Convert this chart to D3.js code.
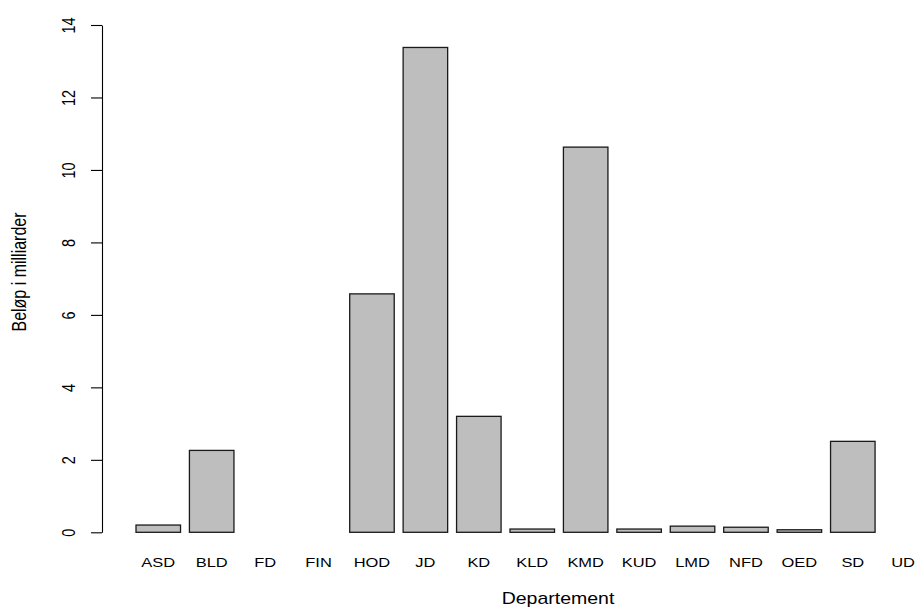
<!DOCTYPE html>
<html><head><meta charset="utf-8">
<script src="https://cdn.jsdelivr.net/npm/d3@7/dist/d3.min.js"></script>
<style>body{margin:0;background:#fff}svg{display:block;font-family:"Liberation Sans",Arial,sans-serif}</style>
</head><body>
<script>
const categories = ["ASD","BLD","FD","FIN","HOD","JD","KD","KLD","KMD","KUD","LMD","NFD","OED","SD","UD"];
const values = [0.2, 2.26, 0, 0, 6.58, 13.38, 3.2, 0.09, 10.63, 0.09, 0.17, 0.14, 0.07, 2.51, 0];
const yTicks = [0, 2, 4, 6, 8, 10, 12, 14];
const xTitle = "Departement";
const yTitle = "Beløp i milliarder";

const W = 916, H = 608;
const sx = 1.22; // horizontal stretch of the reference
const svg = d3.select("body").append("svg").attr("width", W).attr("height", H);

// R barplot coordinates: bar i spans [0.2 + 1.2 i, 1.2 + 1.2 i]
const x = d3.scaleLinear().domain([-0.512, 18.712]).range([104.3, 960.2]);
const y = d3.scaleLinear().domain([0, 14]).range([532.3, 25]);

const data = categories.map((c, i) => ({c, v: values[i], l: 0.2 + 1.2 * i, r: 1.2 + 1.2 * i}));

svg.append("g").selectAll("rect").data(data.filter(d => d.v > 0)).join("rect")
  .attr("x", d => x(d.l)).attr("width", d => x(d.r) - x(d.l))
  .attr("y", d => y(d.v)).attr("height", d => y(0) - y(d.v))
  .attr("fill", "#bebebe").attr("stroke", "#1a1a1a").attr("stroke-width", 1.3);

// y axis
const ax = svg.append("g").attr("transform", "translate(102,0)")
  .call(d3.axisLeft(y).tickValues(yTicks).tickSize(11).tickSizeOuter(0).tickFormat(d3.format("d")));
ax.select(".domain").attr("stroke", "#000").attr("stroke-width", 1.1);
ax.selectAll(".tick line").attr("stroke", "#000").attr("stroke-width", 1.1);
ax.selectAll(".tick text").attr("x", null).attr("dy", null)
  .attr("transform", "translate(-34,0) scale(1.22,1) rotate(-90)")
  .attr("text-anchor", "middle").attr("dominant-baseline", "central")
  .attr("font-size", 14.5).attr("fill", "#000").attr("font-family", "Liberation Sans, Arial, sans-serif");

// x labels
svg.append("g").selectAll("text").data(data).join("text")
  .attr("text-anchor", "middle").attr("font-size", 13.5).attr("fill", "#000")
  .text(d => d.c)
  .attr("transform", function(d) {
    const half = this.getComputedTextLength() * sx / 2;
    const cx = Math.min(x((d.l + d.r) / 2), W - half - 1);
    return `translate(${cx},567) scale(${sx},1)`;
  });

// titles
svg.append("text").attr("transform", `translate(558,604) scale(${sx},1)`)
  .attr("text-anchor", "middle").attr("font-size", 16).attr("fill", "#000").text(xTitle);
svg.append("text").attr("transform", `translate(26,272) scale(${sx},1) rotate(-90)`)
  .attr("text-anchor", "middle").attr("font-size", 16).attr("fill", "#000").text(yTitle);
</script>
</body></html>
